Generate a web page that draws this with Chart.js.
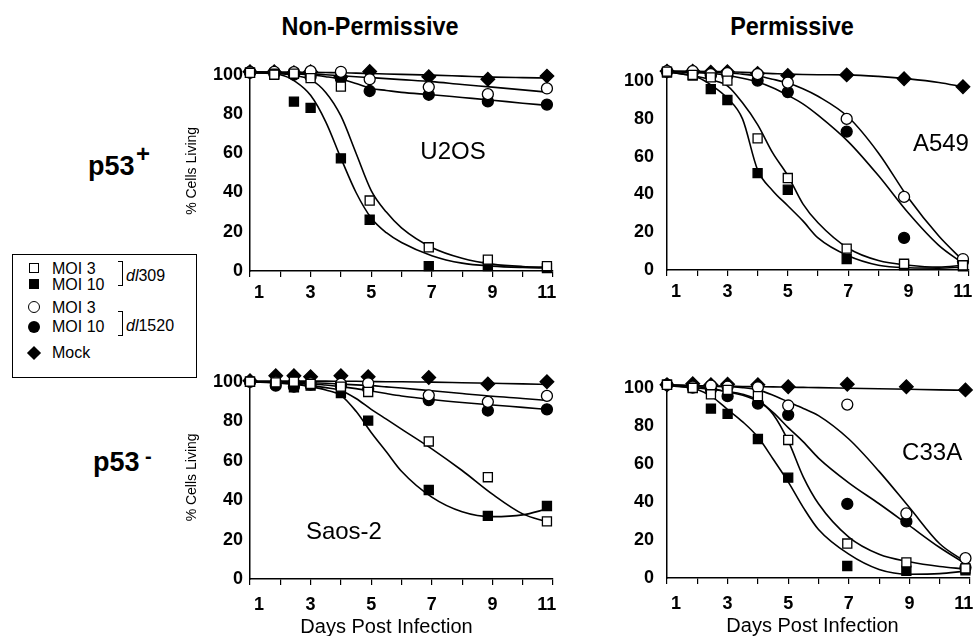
<!DOCTYPE html>
<html lang="en">
<head>
<meta charset="UTF-8">
<title>Cell survival after infection</title>
<script src="https://cdn.jsdelivr.net/npm/chart.js"></script>
<style>
  body { margin: 0; width: 975px; height: 636px; overflow: hidden; background: #fff;
         font-family: "Liberation Sans", Arial, Helvetica, sans-serif; color: #000; position: relative; }
  canvas { position: absolute; }
  .txt { position: absolute; white-space: nowrap; line-height: 1; }
  .colTitle { font-weight: bold; font-size: 26px; width: 260px; text-align: center; top: 13px;
              transform: scaleX(0.9); }
  .row { font-weight: bold; font-size: 27px; }
  #legend { position: absolute; left: 12px; top: 254px; width: 185px; height: 124px;
            border: 1px solid #000; box-sizing: border-box; font-size: 16px; }
  #legend .sym { position: absolute; box-sizing: border-box; }
  #legend .lbl { position: absolute; left: 39px; line-height: 1; white-space: nowrap; }
  #legend .brk { position: absolute; left: 105px; width: 5px; height: 25px;
                 border: 1.5px solid #000; border-left: none; box-sizing: border-box; }
  #legend .grp { position: absolute; left: 113px; line-height: 1; white-space: nowrap; }
</style>
</head>
<body>

<div class="txt colTitle" style="left:240px">Non-Permissive</div>
<div class="txt colTitle" style="left:662px">Permissive</div>

<div class="txt row" style="left:88px; top:153px">p53</div>
<div class="txt row" style="left:136px; top:142px; font-size:24px">+</div>
<div class="txt row" style="left:93px; top:449px">p53</div>
<div class="txt row" style="left:145px; top:446px; font-size:20px">-</div>

<div id="legend">
  <div class="sym" style="left:16px; top:8px; width:10px; height:10px; border:1.5px solid #000; background:#fff"></div>
  <div class="lbl" style="top:6px">MOI 3</div>
  <div class="sym" style="left:16px; top:24px; width:10px; height:10px; background:#000"></div>
  <div class="lbl" style="top:22px">MOI 10</div>
  <div class="sym" style="left:15px; top:46px; width:12px; height:12px; border:1.5px solid #000; border-radius:50%; background:#fff"></div>
  <div class="lbl" style="top:45px">MOI 3</div>
  <div class="sym" style="left:15px; top:66px; width:12px; height:12px; border-radius:50%; background:#000"></div>
  <div class="lbl" style="top:64px">MOI 10</div>
  <div class="sym" style="left:16px; top:93px; width:10px; height:10px; background:#000; transform:rotate(45deg)"></div>
  <div class="lbl" style="top:90px">Mock</div>
  <div class="brk" style="top:6px"></div>
  <div class="grp" style="top:13px"><i>dl</i>309</div>
  <div class="brk" style="top:56px"></div>
  <div class="grp" style="top:63px"><i>dl</i>1520</div>
</div>

<canvas id="u2os" width="390" height="248" style="left:180px; top:53px"></canvas>
<canvas id="a549" width="389" height="254" style="left:597px; top:46px"></canvas>
<canvas id="saos" width="390" height="281" style="left:180px; top:358px"></canvas>
<canvas id="c33a" width="390" height="278" style="left:597px; top:360px"></canvas>

<script>
// shared axis ticks
const xTickLabels = [1, 3, 5, 7, 9, 11];
const yTicks = [0, 20, 40, 60, 80, 100];
const fitDays = [1, 2, 2.5, 3, 3.5, 4, 4.5, 5, 5.5, 6, 7, 8, 9, 10, 10.8];

// U2OS (p53+, non-permissive)
const u2osDays = [1, 1.8, 2.45, 3, 4, 4.95, 6.9, 8.85, 10.8];
const u2osOpenSq = [101, 100, 100.5, 98.3, 93.9, 35.9, 12.1, 5.8, 2.5];
const u2osFilledSq = [101, 100.5, 86.3, 83.1, 57.4, 26.1, 2.5, 2.5, 1.5];
const u2osOpenCirc = [101.5, 101.5, 101.3, 101.8, 101.5, 97.7, 93.7, 90.1, 93];
const u2osFilledCirc = [101, 100.5, 100, 99, 98, 91.7, 89.8, 86.4, 84.8];
const u2osMock = [101.5, 101.5, 101, 101.5, 99, 101.6, 99, 97.7, 99.3];
const u2osFitOpenSq = [101, 100.5, 99.5, 97.5, 91, 79, 60, 41, 30, 22, 12, 6.5, 3.5, 2.3, 2];
const u2osFitFilledSq = [101, 100, 96.5, 89.5, 76, 57.5, 40, 27, 19.5, 14.5, 7.8, 4, 2.5, 1.8, 1.5];
const u2osFitOpenCirc = [101.5, 101, 100.8, 100.5, 100, 99.5, 99, 98.5, 98, 97.5, 96.5, 95, 93.7, 92.3, 91.1];
const u2osFitFilledCirc = [101, 100.8, 100.5, 100, 99, 97.7, 95.5, 93, 92, 91, 89.8, 88.4, 87, 85.5, 84.4];
const u2osFitMock = [101.5, 101.4, 101.3, 101.2, 101.1, 101, 100.8, 100.6, 100.4, 100.2, 99.8, 99.3, 98.8, 98.5, 98.3];

// A549 (p53+, permissive)
const a549Days = [1, 1.85, 2.45, 3, 4, 5, 6.95, 8.85, 10.8];
const a549OpenSq = [105, 103.3, 102, 100.3, 69.7, 48.7, 11.3, 3.3, 2.5];
const a549FilledSq = [104.5, 103, 95.8, 90, 51.3, 42.5, 5.8, 2.5, 2];
const a549OpenCirc = [105.3, 105.3, 103.7, 104.2, 103.7, 99.2, 80, 38.7, 5.8];
const a549FilledCirc = [105, 104.5, 103, 103, 100.3, 94.2, 73.3, 17, 4.5];
const a549Mock = [105.3, 105.3, 104.7, 105, 104, 103, 103.3, 101.3, 97];
const a549FitOpenSq = [105, 102.5, 100.5, 97.5, 88.5, 77, 62, 50, 35, 25, 11.5, 5, 2.5, 1.5, 2.5];
const a549FitFilledSq = [105, 102, 97.5, 91, 80, 53, 42, 34, 26, 17, 7.5, 2.5, 1.2, 1, 1.5];
const a549FitOpenCirc = [105.3, 105, 104.7, 104.3, 103.7, 102.7, 101, 99, 96, 92, 81, 62, 38, 18, 5];
const a549FitFilledCirc = [105, 104.5, 104, 103, 101.5, 99.5, 96.5, 92.5, 88, 82, 68, 50, 30, 13, 3.5];
const a549FitMock = [105.3, 105.2, 105.1, 105, 104.7, 104.3, 104, 103.7, 103.5, 103.4, 103.3, 102.5, 101.2, 99.3, 97];

// Saos-2 (p53-, non-permissive)
const saosDays = [1, 1.85, 2.45, 3, 4, 4.9, 6.9, 8.85, 10.8];
const saosOpenSq = [100, 99.7, 100, 98.9, 97.5, 94.8, 69.7, 51.6, 29.2];
const saosFilledSq = [100, 98.9, 97.2, 98, 94.3, 80.3, 45.1, 32, 37];
const saosOpenCirc = [100, 99.7, 99.5, 99.2, 98.9, 99.2, 93.1, 89.8, 92.8];
const saosFilledCirc = [100, 98, 97.5, 98.5, 98, 96.4, 90.7, 85.4, 86];
const saosMock = [100.5, 103, 103, 102.5, 103, 102.5, 102.1, 98.9, 100];
const saosFitOpenSq = [100, 99.3, 98.7, 98, 97, 95.6, 91.5, 86, 81, 76, 66, 55, 43, 33, 29];
const saosFitFilledSq = [100, 99.5, 98.7, 97.5, 95.8, 93.1, 85, 74.3, 64.5, 54.6, 41.5, 34.1, 31.6, 32.5, 35.5];
const saosFitOpenCirc = [100, 99.8, 99.7, 99.5, 99.2, 98.8, 98.4, 98, 97.4, 96.8, 95.4, 94, 92.6, 91.5, 90.5];
const saosFitFilledCirc = [100, 99.6, 99.3, 99, 98.3, 97.5, 96.5, 95.3, 94, 92.8, 91, 89.5, 88.2, 87, 86];
const saosFitMock = [100.3, 100.3, 100.3, 100.3, 100.3, 100.2, 100.2, 100.1, 100, 100, 99.8, 99.5, 99.2, 98.9, 98.6];

// C33A (p53-, permissive)
const c33aDays = [1, 1.85, 2.45, 3, 4, 5, 6.95, 8.9, 10.85];
const c33aOpenSq = [101.5, 99.8, 96.5, 98.8, 95.5, 72.5, 18.1, 8.2, 5];
const c33aFilledSq = [101.5, 100, 89, 86.2, 73, 52.7, 6.3, 3.8, 4];
const c33aOpenCirc = [101.5, 100.5, 101, 100.5, 100.2, 90.6, 91.1, 33.9, 10.4];
const c33aFilledCirc = [101.5, 100, 99, 95.5, 91.6, 85.7, 38.9, 29.7, 5.5];
const c33aMock = [101.5, 102, 101.5, 101.8, 101.5, 100.5, 101.8, 100.5, 98.8];
const c33aFitOpenSq = [101, 99.8, 99, 98, 96.5, 93.5, 86, 72, 53, 39, 21.5, 12.5, 8.5, 6, 4.8];
const c33aFitFilledSq = [101.5, 99, 95, 88.5, 82, 74, 62.5, 50.5, 37, 25.5, 12.5, 4.5, 2, 2.3, 3.5];
const c33aFitOpenCirc = [101.5, 101, 100.8, 100.5, 100, 98.8, 96, 92.5, 89, 85.3, 73, 56, 37, 18, 9];
const c33aFitFilledCirc = [101.5, 100.5, 99.5, 97.7, 96, 92.8, 87, 79, 71.5, 63, 50, 39, 27.5, 16, 8];
const c33aFitMock = [101.2, 101, 100.9, 100.8, 100.6, 100.5, 100.4, 100.2, 100.1, 100, 99.7, 99.4, 99.1, 98.8, 98.6];

// marker looks: MOI 3 / MOI 10 dl309, MOI 3 / MOI 10 dl1520, Mock
const markers = [
  { pointStyle: 'rect', pointRadius: 6.4, pointBackgroundColor: '#fff' },
  { pointStyle: 'rect', pointRadius: 6.4, pointBackgroundColor: '#000' },
  { pointStyle: 'circle', pointRadius: 5.5, pointBackgroundColor: '#fff' },
  { pointStyle: 'circle', pointRadius: 5.5, pointBackgroundColor: '#000' },
  { pointStyle: 'rectRot', pointRadius: 6.8, pointBackgroundColor: '#000' }
];

Chart.defaults.font.family = '"Liberation Sans", Arial, Helvetica, sans-serif';
Chart.defaults.color = '#000';

// the end labels sit a little inside the axis ends in the original
function dayLabel(v) {
  if (!xTickLabels.includes(v)) return '';
  if (v === 1) return '\u2003' + v;
  if (v === 11) return v + '\u2002\u2009';
  return String(v);
}

// writes the cell line name inside the plot
const panelLabel = {
  id: 'panelLabel',
  afterDatasetsDraw(chart, args, opts) {
    const { ctx, scales: { x, y } } = chart;
    ctx.save();
    ctx.font = '24px "Liberation Sans", Arial, sans-serif';
    ctx.fillStyle = '#000';
    ctx.textAlign = 'center';
    ctx.textBaseline = 'middle';
    ctx.fillText(opts.text, x.getPixelForValue(opts.day), y.getPixelForValue(opts.value));
    ctx.restore();
  }
};

function makePanel(id, p) {
  const datasets = [];
  p.fits.forEach(f => {
    datasets.push({
      data: fitDays.map((d, k) => ({ x: d, y: f[k] })),
      showLine: true, pointRadius: 0, borderColor: '#000', borderWidth: 1.6,
      cubicInterpolationMode: 'monotone', order: 1, clip: false
    });
  });
  p.points.forEach((vals, i) => {
    datasets.push(Object.assign({
      data: p.days.map((d, k) => ({ x: d, y: vals[k] })),
      showLine: false, pointBorderColor: '#000', pointBorderWidth: 1.3,
      order: 0, clip: false
    }, markers[i]));
  });

  new Chart(document.getElementById(id), {
    type: 'scatter',
    data: { datasets },
    plugins: [panelLabel],
    options: {
      responsive: false,
      animation: false,
      layout: { padding: { top: 12, right: 17, left: 0, bottom: 0 } },
      plugins: {
        legend: { display: false },
        tooltip: { enabled: false },
        panelLabel: p.label
      },
      scales: {
        x: {
          type: 'linear', min: 1, max: 11,
          afterFit: s => { s.height = p.xHeight; s.paddingLeft = 0; s.paddingRight = 0; },
          border: { display: true, color: '#000', width: 1.5 },
          grid: { display: true, drawOnChartArea: false, drawTicks: true, tickLength: 6, color: '#000', lineWidth: 1.2 },
          ticks: {
            stepSize: 1, autoSkip: false, maxRotation: 0, padding: p.xPad,
            font: { size: 18, weight: 'bold' },
            callback: dayLabel
          },
          title: {
            display: !!p.xTitle, text: p.xTitle || '',
            font: { size: 20 }, padding: { top: 0, bottom: 0 }
          }
        },
        y: {
          min: 0, max: p.yMax,
          afterFit: s => { s.width = 70; },
          afterBuildTicks: s => { s.ticks = yTicks.map(v => ({ value: v })); },
          border: { display: true, color: '#000', width: 1.5 },
          grid: { display: true, drawOnChartArea: false, drawTicks: false },
          ticks: { padding: p.yPad, font: { size: 18, weight: 'bold' } },
          title: {
            display: p.yTitle, text: '% Cells Living',
            font: { size: 14 }, padding: { top: 4, bottom: 0 }
          }
        }
      }
    }
  });
}

makePanel('u2os', {
  days: u2osDays,
  points: [u2osOpenSq, u2osFilledSq, u2osOpenCirc, u2osFilledCirc, u2osMock],
  fits: [u2osFitOpenSq, u2osFitFilledSq, u2osFitOpenCirc, u2osFitFilledCirc, u2osFitMock],
  yMax: 102, yPad: 7, yTitle: true, xTitle: '', xHeight: 30, xPad: 5,
  label: { text: 'U2OS', day: 7.7, value: 60.5 }
});
makePanel('a549', {
  days: a549Days,
  points: [a549OpenSq, a549FilledSq, a549OpenCirc, a549FilledCirc, a549Mock],
  fits: [a549FitOpenSq, a549FitFilledSq, a549FitOpenCirc, a549FitFilledCirc, a549FitMock],
  yMax: 106, yPad: 13, yTitle: false, xTitle: '', xHeight: 30, xPad: 5,
  label: { text: 'A549', day: 10.07, value: 66.5 }
});
makePanel('saos', {
  days: saosDays,
  points: [saosOpenSq, saosFilledSq, saosOpenCirc, saosFilledCirc, saosMock],
  fits: [saosFitOpenSq, saosFitFilledSq, saosFitOpenCirc, saosFitFilledCirc, saosFitMock],
  yMax: 103, yPad: 7, yTitle: true, xTitle: 'Days Post Infection\u2003\u2002', xHeight: 60, xPad: 9,
  label: { text: 'Saos-2', day: 4.1, value: 23.6 }
});
makePanel('c33a', {
  days: c33aDays,
  points: [c33aOpenSq, c33aFilledSq, c33aOpenCirc, c33aFilledCirc, c33aMock],
  fits: [c33aFitOpenSq, c33aFitFilledSq, c33aFitOpenCirc, c33aFitFilledCirc, c33aFitMock],
  yMax: 102, yPad: 13, yTitle: false, xTitle: 'Days Post Infection\u2009\u2009\u2009', xHeight: 60, xPad: 9,
  label: { text: 'C33A', day: 9.75, value: 65.3 }
});
</script>
</body>
</html>
